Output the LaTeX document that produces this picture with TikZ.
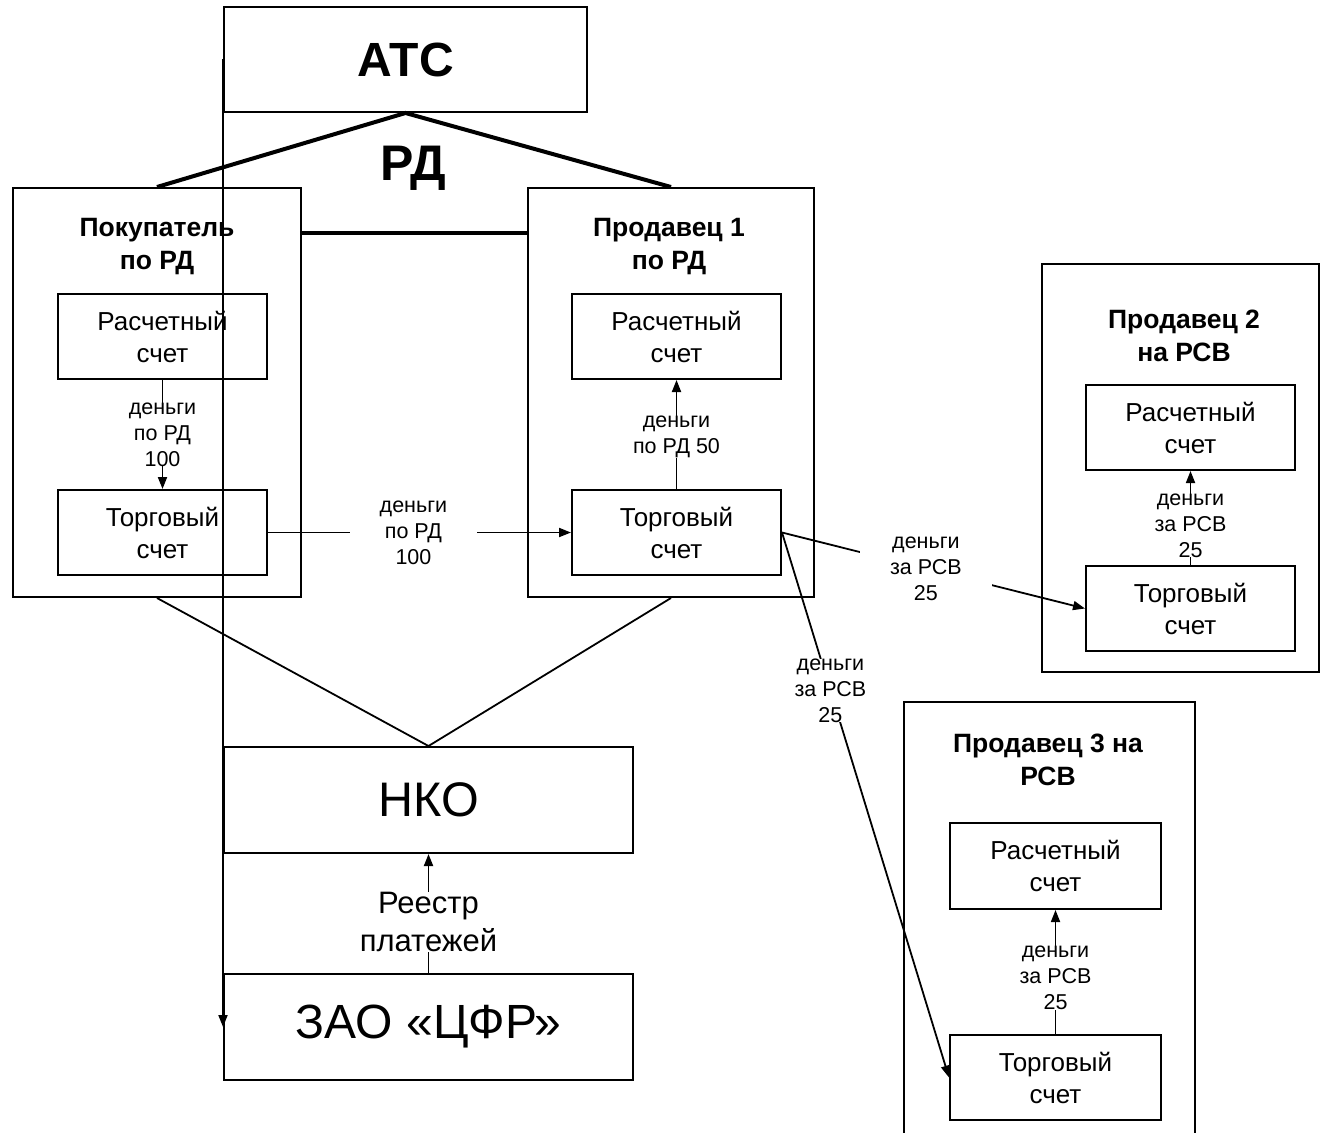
\documentclass[tikz,border=0pt]{standalone}
\usepackage{fontspec}
\setmainfont{Liberation Sans}
\usetikzlibrary{arrows.meta}
\begin{document}
\begin{tikzpicture}[x=1pt,y=-1pt,
  box/.style={draw, line width=2pt, inner sep=0pt, align=center, anchor=north west},
  acct/.style={box, minimum width=209pt, minimum height=85pt, font=\fontsize{26}{32}\selectfont},
  outer/.style={box},
  ttl/.style={align=center, inner sep=0pt, font=\bfseries\fontsize{26.5}{33}\selectfont},
  conn/.style={line width=1.8pt},
  heavy/.style={line width=4pt},
  arr/.style={conn, -{Triangle[length=12pt,width=9pt]}},
  lbl/.style={fill=white, inner xsep=1pt, inner ysep=0pt, align=center, font=\fontsize{21.5}{26}\selectfont},
  wlbl/.style={lbl, inner xsep=30pt}
]
\useasboundingbox (0,0) rectangle (1327,1132);

% main boxes
\node[box, minimum width=363pt, minimum height=105pt, font=\bfseries\fontsize{48}{52}\selectfont] (atc) at (223,6) {АТС};
\node[box, minimum width=409pt, minimum height=106pt, font=\fontsize{48.5}{52}\selectfont] (nko) at (223,746) {НКО};
\node[box, minimum width=409pt, minimum height=106pt, font=\fontsize{48}{52}\selectfont] (zao) at (223,973) {ЗАО «ЦФР»};

\node[font=\bfseries\fontsize{50}{54}\selectfont, inner sep=0pt] (rd) at (413,168) {РД};

% participant boxes
\node[outer, minimum width=288pt, minimum height=409pt] (pok) at (12,187) {};
\node[outer, minimum width=286pt, minimum height=409pt] (p1) at (527,187) {};
\node[outer, minimum width=277pt, minimum height=408pt] (p2) at (1041,263) {};
\node[minimum width=291pt, minimum height=440pt, inner sep=0pt, anchor=north west] (p3) at (904,702) {};
\draw[line width=2pt] (p3.south west) -- (p3.north west) -- (p3.north east) -- (p3.south east);

\node[ttl] (pokt) at (157,247) {Покупатель\\по РД};
\node[ttl] (p1t) at (669,247) {Продавец 1\\по РД};
\node[ttl] (p2t) at (1184,336) {Продавец 2\\на РСВ};
\node[ttl] (p3t) at (1048,760) {Продавец 3 на\\РСВ};

% accounts
\node[acct] (pokrs) at (57,293) {Расчетный\\счет};
\node[acct] (pokts) at (57,489) {Торговый\\счет};
\node[acct] (p1rs) at (571,293) {Расчетный\\счет};
\node[acct] (p1ts) at (571,489) {Торговый\\счет};
\node[acct] (p2rs) at (1085,384) {Расчетный\\счет};
\node[acct] (p2ts) at (1085,565) {Торговый\\счет};
\node[acct, minimum width=211pt, minimum height=86pt] (p3rs) at (949,822) {Расчетный\\счет};
\node[acct, minimum width=211pt, minimum height=85pt] (p3ts) at (949,1034) {Торговый\\счет};

% structure lines
\draw[heavy] (pok.north) -- (atc.south) -- (p1.north);
\draw[heavy] (pok.east |- 0,233) -- (p1.west |- 0,233);
\draw[conn] (pok.south) -- (nko.north) -- (p1.south);
\draw[arr] (atc.west) -- (zao.west);

% money flows
\draw[arr] (pokrs.south) -- node[lbl] {деньги\\по РД\\100} (pokts.north);
\draw[arr] (pokts.east) -- node[wlbl, pos=0.48] {деньги\\по РД\\100} (p1ts.west);
\draw[arr] (p1ts.north) -- node[lbl, pos=0.48] {деньги\\по РД 50} (p1rs.south);
\draw[arr] (p1ts.east) -- node[wlbl, pos=0.475] {деньги\\за РСВ\\25} (p2ts.west);
\draw[arr] (p1ts.east) -- node[lbl, pos=0.29] {деньги\\за РСВ\\25} (p3ts.west);
\draw[arr] (p2ts.north) -- node[lbl, pos=0.42] {деньги\\за РСВ\\25} (p2rs.south);
\draw[arr] (p3ts.north) -- node[lbl, pos=0.45] {деньги\\за РСВ\\25} (p3rs.south);
\draw[arr] (zao.north) -- node[fill=white, inner sep=0pt, align=center, font=\fontsize{31}{38}\selectfont, pos=0.43] {Реестр\\платежей} (nko.south);
\end{tikzpicture}
\end{document}
